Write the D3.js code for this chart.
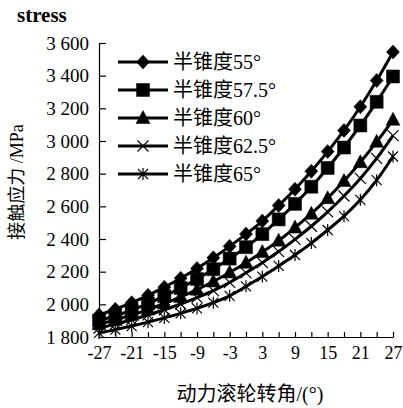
<!DOCTYPE html>
<html>
<head>
<meta charset="utf-8">
<script src="https://cdn.jsdelivr.net/npm/d3@7"></script>
<style>
  body { margin: 0; background: #fff; }
  text { font-family: 'Liberation Serif', 'Noto Sans CJK SC', serif; fill: #000; }
</style>
</head>
<body>
<div id="chart"></div>
<script>
// rotation angle of the power roller (deg)
const angles = [-27, -24, -21, -18, -15, -12, -9, -6, -3, 0, 3, 6, 9, 12, 15, 18, 21, 24, 27];
const xTickLabels = [-27, -21, -15, -9, -3, 3, 9, 15, 21, 27];
const yTicks = [1800, 2000, 2200, 2400, 2600, 2800, 3000, 3200, 3400, 3600];

// contact stress (MPa) for each half cone angle
const names = ["半锥度55°", "半锥度57.5°", "半锥度60°", "半锥度62.5°", "半锥度65°"];
const cone55 = [1935, 1970, 2010, 2055, 2105, 2160, 2220, 2285, 2355, 2430, 2510, 2605, 2705, 2815, 2935, 3065, 3210, 3370, 3545];
const cone575 = [1900, 1930, 1965, 2005, 2050, 2100, 2155, 2215, 2280, 2350, 2430, 2520, 2615, 2720, 2835, 2960, 3095, 3240, 3395];
const cone60 = [1878, 1905, 1935, 1968, 2005, 2045, 2090, 2140, 2195, 2255, 2320, 2390, 2470, 2555, 2650, 2755, 2870, 2995, 3130];
const cone625 = [1855, 1879, 1906, 1935, 1967, 2002, 2041, 2084, 2134, 2193, 2255, 2323, 2398, 2478, 2566, 2663, 2771, 2894, 3033];
const cone65 = [1825, 1845, 1867, 1891, 1917, 1945, 1975, 2010, 2052, 2110, 2170, 2235, 2302, 2375, 2455, 2540, 2640, 2760, 2905];

const seriesVals = [cone55, cone575, cone60, cone625, cone65];
const markers = ["diamond", "square", "triangle", "cross", "asterisk"];

const w = 403, h = 408;
const svg = d3.select("#chart").append("svg")
  .attr("width", w)
  .attr("height", h);

svg.append("rect").attr("width", w).attr("height", h).attr("fill", "#fff");

const xSc = d3.scaleLinear().domain([-27, 27]).range([99, 393]);
const ySc = d3.scaleLinear().domain([1800, 3600]).range([337, 43]);

const fmt = d3.formatLocale({ decimal: ".", thousands: " ", grouping: [3], currency: ["", ""] }).format(",");

// axes
svg.append("g")
  .attr("transform", `translate(${xSc.range()[0]},0)`)
  .call(d3.axisLeft(ySc)
    .tickValues(yTicks)
    .tickSizeInner(-7)
    .tickSizeOuter(0)
    .tickPadding(10)
    .tickFormat(fmt))
  .call(g => g.selectAll("text").style("font-size", "19px"));

svg.append("g")
  .attr("transform", `translate(0,${ySc(1800)})`)
  .call(d3.axisBottom(xSc)
    .tickValues(angles)
    .tickSizeInner(-5)
    .tickSizeOuter(0)
    .tickPadding(9)
    .tickFormat(d => xTickLabels.includes(d) ? d : ""))
  .call(g => g.selectAll("text").style("font-size", "18px"));

svg.selectAll(".domain, .tick line").attr("stroke", "#000").attr("stroke-width", 1.2);

// marker shapes
const shape = {
  diamond: "M0,-7L6.5,0L0,7L-6.5,0Z",
  square: "M-6.5,-6.5H6.5V6.5H-6.5Z",
  triangle: "M0,-7.5L7,5.5L-7,5.5Z",
  cross: "M-5.5,-5.5L5.5,5.5M-5.5,5.5L5.5,-5.5",
  asterisk: "M-5,-5L5,5M-5,5L5,-5M0,-6V6"
};
const filled = m => m === "diamond" || m === "square" || m === "triangle";

const line = d3.line()
  .x((d, i) => xSc(angles[i]))
  .y(d => ySc(d))
  .curve(d3.curveMonotoneX);

const plot = svg.append("g");

seriesVals.forEach((vals, k) => {
  const m = markers[k];
  plot.append("path")
    .datum(vals)
    .attr("fill", "none")
    .attr("stroke", "#000")
    .attr("stroke-width", 3)
    .attr("d", line);

  plot.selectAll(".mk" + k)
    .data(vals)
    .join("path")
      .attr("class", "mk" + k)
      .attr("transform", (d, i) => `translate(${xSc(angles[i])},${ySc(d)})`)
      .attr("d", shape[m])
      .attr("fill", filled(m) ? "#000" : "none")
      .attr("stroke", "#000")
      .attr("stroke-width", filled(m) ? 0.5 : 1.2);
});

// legend
const legend = svg.append("g").attr("transform", "translate(118,62)");
names.forEach((name, k) => {
  const m = markers[k];
  const row = legend.append("g").attr("transform", `translate(0,${k * 28})`);
  row.append("line")
    .attr("x1", 0).attr("x2", 50)
    .attr("stroke", "#000").attr("stroke-width", 3);
  row.append("path")
    .attr("transform", "translate(25,0)")
    .attr("d", shape[m])
    .attr("fill", filled(m) ? "#000" : "none")
    .attr("stroke", "#000")
    .attr("stroke-width", filled(m) ? 0.5 : 1.2);
  row.append("text")
    .attr("x", 55)
    .attr("dy", "0.35em")
    .style("font-size", "20px")
    .text(name);
});

// titles
svg.append("text")
  .attr("x", 17).attr("y", 22)
  .style("font-size", "21px")
  .style("font-weight", "bold")
  .text("stress");

svg.append("text")
  .attr("transform", "translate(23,182) rotate(-90)")
  .attr("text-anchor", "middle")
  .style("font-size", "18px")
  .text("接触应力 /MPa");

svg.append("text")
  .attr("x", 250).attr("y", 401)
  .attr("text-anchor", "middle")
  .style("font-size", "20px")
  .text("动力滚轮转角/(°)");
</script>
</body>
</html>
